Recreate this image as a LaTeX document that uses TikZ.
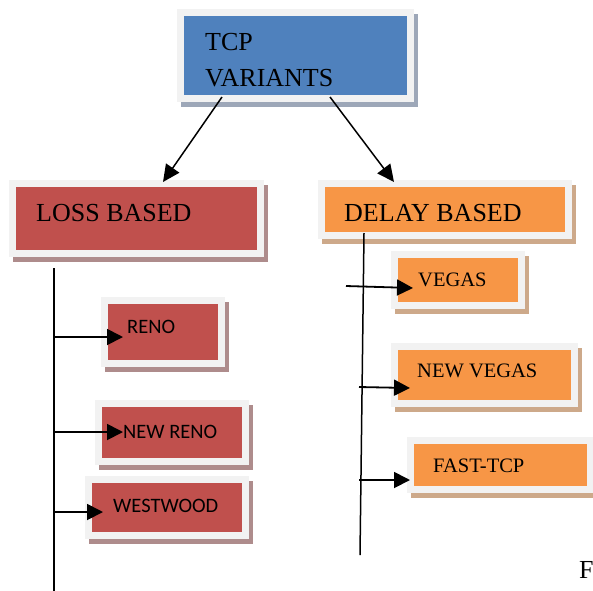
\documentclass[tikz,border=0pt]{standalone}
\usepackage{fontspec}
\setmainfont{Liberation Serif}
\newfontfamily\calfont{Carlito}
\usetikzlibrary{arrows.meta}
\definecolor{cblue}{HTML}{4F81BD}
\definecolor{cred}{HTML}{C0504D}
\definecolor{corange}{HTML}{F79646}
\definecolor{cframe}{HTML}{F2F2F2}
\definecolor{sblue}{HTML}{9DA7B8}
\definecolor{sred}{HTML}{AE8C8C}
\definecolor{sorange}{HTML}{CDA98A}
\tikzset{
  framedbox/.style n args={4}{rectangle, inner sep=0pt, minimum width=#3, minimum height=#4,
    fill=#1,
    preaction={draw=#2, fill=#2, line width=14pt, transform canvas={shift={(3.5pt,-5pt)}}},
    preaction={draw=cframe, fill=cframe, line width=14pt}},
  topbox/.style 2 args={framedbox={cblue}{sblue}{#1}{#2}},
  redbox/.style 2 args={framedbox={cred}{sred}{#1}{#2}},
  orbox/.style 2 args={framedbox={corange}{sorange}{#1}{#2}},
  big/.style={anchor=base west, inner sep=0pt, font=\fontsize{26}{30}\selectfont},
  mid/.style={anchor=base west, inner sep=0pt, font=\fontsize{20.5}{24}\selectfont},
  sans/.style={anchor=base west, inner sep=0pt, font=\calfont\fontsize{20.5}{24}\selectfont},
  arr/.style={line width=1.8pt, -{Triangle[length=16pt,width=16pt]}},
  tarr/.style={line width=1.5pt, -{Triangle[length=17pt,width=16pt]}},
  vline/.style={line width=1.5pt},
}
\begin{document}
\begin{tikzpicture}[x=1pt,y=-1pt]
\useasboundingbox (0,0) rectangle (593,590);
% boxes
\node[topbox={223pt}{79pt}] (top) at (295.5,55.5) {};
\node[redbox={241pt}{63pt}] (loss) at (136.5,218.5) {};
\node[orbox={240pt}{45pt}] (delay) at (445,209.5) {};
\node[redbox={110pt}{56pt}] (reno) at (163,332) {};
\node[redbox={140pt}{51pt}] (newreno) at (172,432.5) {};
\node[redbox={150pt}{49pt}] (westwood) at (167,507.5) {};
\node[orbox={120pt}{44pt}] (vegas) at (458,280) {};
\node[orbox={173pt}{50pt}] (newvegas) at (484.5,375) {};
\node[orbox={173pt}{42pt}] (fasttcp) at (500.5,465) {};
% texts
\node[big] (t1) at (205,50) {TCP};
\node[big] (t2) at (205,86) {VARIANTS};
\node[big] (tl) at (36,221) {LOSS BASED};
\node[big] (td) at (344,221) {DELAY BASED};
\node[sans] (tr) at (127,333) {RENO};
\node[sans] (tnr) at (123,438) {NEW RENO};
\node[sans] (tw) at (113,512) {WESTWOOD};
\node[mid] (tv) at (418,286) {VEGAS};
\node[mid] (tnv) at (417,377) {NEW VEGAS};
\node[mid] (tf) at (433,472) {FAST-TCP};
\node[big] (tF) at (579,578) {F};
% top arrows
\coordinate (ta1) at (222,97);
\coordinate (ta2) at (330,97);
\coordinate (lossin) at (163,182);
\coordinate (delayin) at (394,182);
\draw[tarr] (ta1) -- (lossin);
\draw[tarr] (ta2) -- (delayin);
% left trunk
\coordinate (lt) at (54,268);
\coordinate (lb) at (54,592);
\draw[vline] (lt) -- (lb);
\coordinate (l1) at (54,337);
\coordinate (l2) at (54,432);
\coordinate (l3) at (54,512);
\coordinate (renoin) at (123,337);
\coordinate (newrenoin) at (123,432);
\coordinate (westwoodin) at (103,512);
\draw[arr] (l1) -- (renoin);
\draw[arr] (l2) -- (newrenoin);
\draw[arr] (l3) -- (westwoodin);
% right trunk
\coordinate (rt) at (364,233);
\coordinate (rb) at (360,555);
\draw[vline] (rt) -- (rb);
\coordinate (r1) at (346,286);
\coordinate (r2) at (359,387);
\coordinate (r3) at (359,480);
\coordinate (vegasin) at (413,288);
\coordinate (newvegasin) at (410,388);
\coordinate (fastin) at (410,480);
\draw[arr] (r1) -- (vegasin);
\draw[arr] (r2) -- (newvegasin);
\draw[arr] (r3) -- (fastin);
\end{tikzpicture}
\end{document}
